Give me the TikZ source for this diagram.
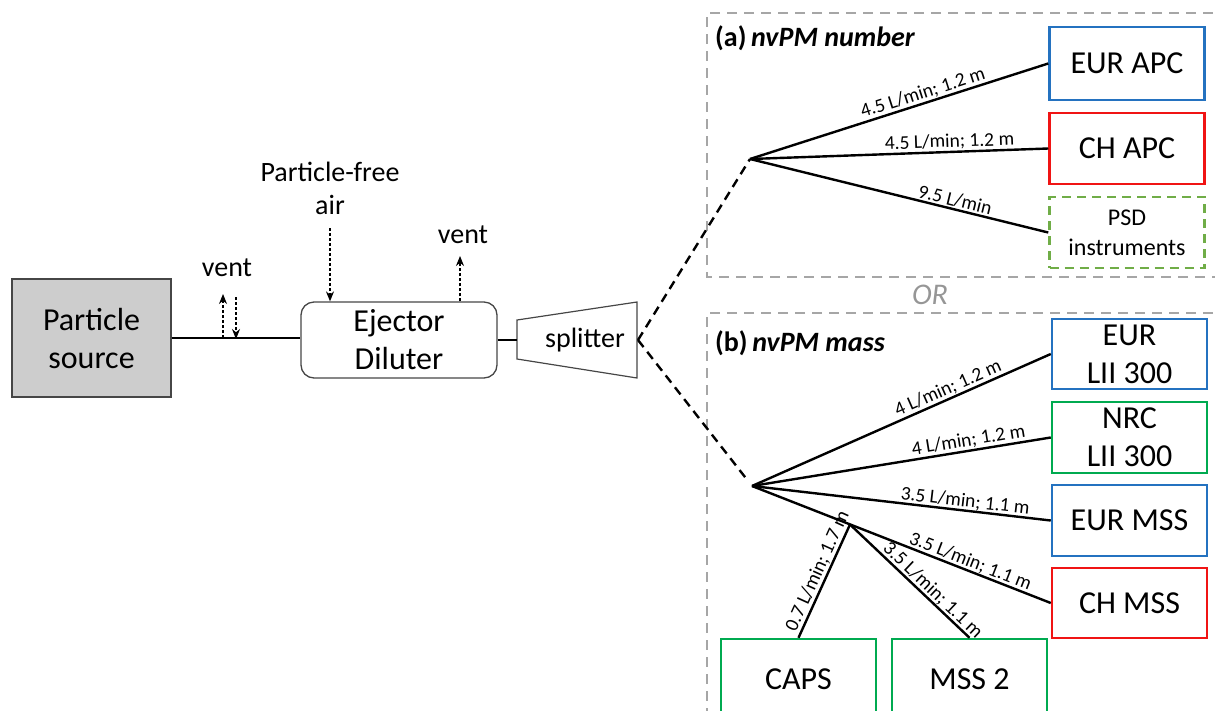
\documentclass[tikz,border=0pt]{standalone}
\usepackage{fontspec}
\setmainfont{Carlito}
\usetikzlibrary{arrows.meta,calc}

\definecolor{boxblue}{RGB}{36,114,192}
\definecolor{boxred}{RGB}{240,20,20}
\definecolor{boxgreen}{RGB}{0,170,80}
\definecolor{psdgreen}{RGB}{112,173,71}
\definecolor{framegray}{RGB}{166,166,166}
\definecolor{orgray}{RGB}{150,150,150}
\definecolor{srcfill}{RGB}{205,205,205}
\definecolor{edgegray}{RGB}{70,70,70}

\tikzset{
  bigtext/.style={font=\fontsize{32}{38}\selectfont},
  instr/.style={draw, line width=2.5pt, minimum width=155pt, minimum height=71pt,
    inner sep=2pt, align=center, bigtext},
  flow/.style={line width=2.4pt},
  tube/.style={line width=2.4pt, dash pattern=on 9pt off 6pt},
  frame/.style={draw=framegray, line width=2pt, dash pattern=on 10pt off 7pt},
  lbl/.style={font=\fontsize{19.5}{22}\selectfont, sloped, above, inner sep=1pt},
  thinarrow/.style={line width=1.1pt, dash pattern=on 3pt off 2pt,
    -{Stealth[length=10pt,width=8pt]}},
  smalltext/.style={font=\fontsize{28}{33}\selectfont, align=center},
  header/.style={font=\fontsize{28}{33}\selectfont, anchor=west, inner sep=0pt}
}

\begin{document}
\begin{tikzpicture}[x=1pt,y=-1pt]
\useasboundingbox (0,0) rectangle (1215,710);
\begin{scope}
\clip (0,0) rectangle (1215,710);

% ---- option frames ----
\draw[frame] (1230,13) -- (707,13) -- (707,277) -- (1230,277);
\draw[frame] (1230,313) -- (707,313) -- (707,730);
\node[header] (hdra) at (715,38) {\textbf{(a)}\,\textbf{\textit{nvPM number}}};
\node[header] (hdrb) at (715,343) {\textbf{(b)}\,\textbf{\textit{nvPM mass}}};
\node[font=\fontsize{30}{33}\selectfont\itshape, text=orgray] (or) at (930,295) {OR};

% ---- sampling train ----
\node[draw=edgegray, fill=srcfill, line width=1.3pt, minimum width=159pt, minimum height=118pt,
      align=center, bigtext] (src) at (91.5,338) {Particle\\source};
\node[draw=edgegray, rounded corners=13pt, line width=1.3pt, minimum width=196pt, minimum height=76pt,
      align=center, bigtext] (ejector) at (399,340) {Ejector\\Diluter};

% splitter (trapezoid)
\coordinate (spl-lt) at (517,320);
\coordinate (spl-lb) at (517,359);
\coordinate (spl-rt) at (637,302);
\coordinate (spl-rb) at (637,378);
\coordinate (spl-in) at (517,340);
\coordinate (spl-out) at (638,340);
\draw[edgegray, line width=1.2pt] (spl-lt) -- (spl-rt) -- (spl-rb) -- (spl-lb) -- cycle;
\node[font=\fontsize{28}{33}\selectfont] (splitter) at (585,340) {splitter};

\draw[flow] (src.east |- 0,338) coordinate (s-out) -- (ejector.west |- 0,338) coordinate (e-in);
\draw[flow] (ejector.east |- spl-in) -- (spl-in);

% vents and dilution air
\coordinate (v1a) at (223,338);
\coordinate (v1b) at (223,294);
\coordinate (v2a) at (236,297);
\coordinate (v2b) at (236,339);
\draw[thinarrow] (v1a) -- (v1b);
\draw[thinarrow] (v2a) -- (v2b);
\node[smalltext] (vent1) at (227,268) {vent};

\node[smalltext] (air) at (330,188) {Particle-free\\air};
\coordinate (air-start) at (330,228);
\draw[thinarrow] (air-start) -- (ejector.north -| air-start);

\coordinate (v3b) at (460,256);
\draw[thinarrow] (ejector.north -| v3b) -- (v3b);
\node[smalltext] (vent2) at (463,235) {vent};

% ---- junctions ----
\coordinate (ja) at (750,159);
\coordinate (jb) at (752,486);
\coordinate (jc) at (850,524.5);
\draw[tube] (spl-out) -- (ja);
\draw[tube] (spl-out) -- ($(spl-out)!0.94!(jb)$);

% ---- (a) nvPM number ----
\node[instr, draw=boxblue, minimum height=73pt] (eurapc) at (1127,63.5) {EUR APC};
\node[instr, draw=boxred] (chapc) at (1127,148.5) {CH APC};
\node[instr, draw=psdgreen, dash pattern=on 9pt off 6pt, font=\fontsize{24}{30}\selectfont] (psd) at (1127,232.5) {PSD\\instruments};

\draw[flow] (ja) -- node[lbl, pos=0.59] {4.5 L/min; 1.2 m} (eurapc.west);
\draw[flow] (ja) -- node[lbl, pos=0.67] {4.5 L/min; 1.2 m} (chapc.west);
\draw[flow] (ja) -- node[lbl, pos=0.68] {9.5 L/min} (psd.west);

% ---- (b) nvPM mass ----
\node[instr, draw=boxblue, minimum height=70pt] (eurlii) at (1129.5,354) {EUR\\LII 300};
\node[instr, draw=boxgreen] (nrclii) at (1129.5,437.5) {NRC\\LII 300};
\node[instr, draw=boxblue] (eurmss) at (1129.5,520.5) {EUR MSS};
\node[instr, draw=boxred, minimum height=70pt] (chmss) at (1129.5,603) {CH MSS};
\node[instr, draw=boxgreen, minimum height=80pt] (caps) at (798.5,679) {CAPS};
\node[instr, draw=boxgreen, minimum height=80pt] (mss2) at (969.5,679) {MSS 2};

\draw[flow] (jb) -- node[lbl, pos=0.67] {4 L/min; 1.2 m} (eurlii.west);
\draw[flow] (jb) -- node[lbl, pos=0.73] {4 L/min; 1.2 m} (nrclii.west);
\draw[flow] (jb) -- node[lbl, pos=0.71, inner sep=0pt] {3.5 L/min; 1.1 m} (eurmss.west);
\draw[flow] (jb) -- node[lbl, pos=0.72, inner sep=0pt] {3.5 L/min; 1.1 m} (chmss.west);
\draw[flow] (caps.north) -- node[lbl, pos=0.55] {0.7 L/min; 1.7 m} (jc);
\draw[flow] (jc) -- node[lbl, pos=0.64, inner sep=0pt] {3.5 L/min; 1.1 m} (mss2.north);
\end{scope}
\end{tikzpicture}
\end{document}
